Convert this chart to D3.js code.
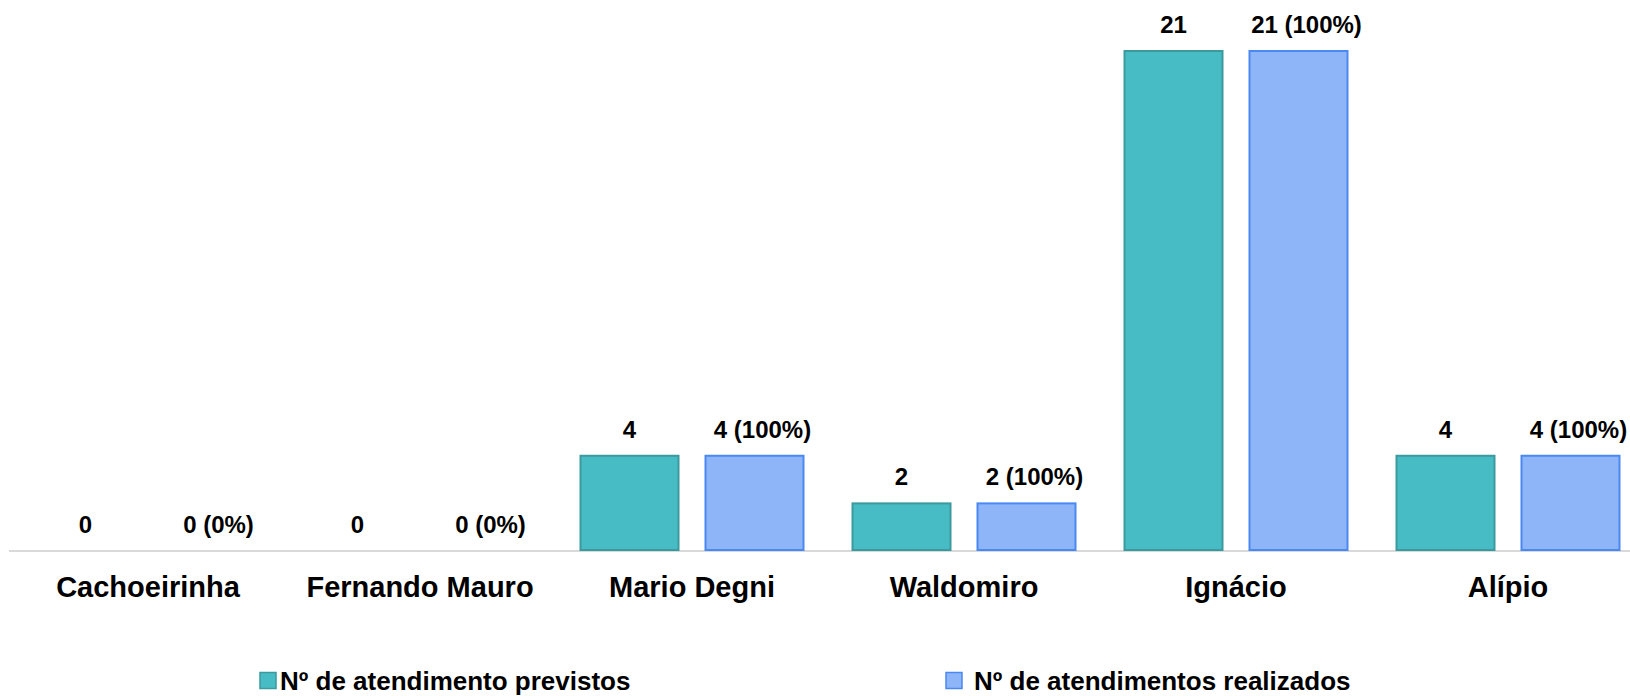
<!DOCTYPE html>
<html>
<head>
<meta charset="utf-8">
<script src="https://cdn.jsdelivr.net/npm/d3@7"></script>
<style>
  html, body { margin: 0; padding: 0; background: #ffffff; }
  svg { display: block; font-family: "Liberation Sans", Arial, sans-serif; }
</style>
</head>
<body>
<svg id="chart" width="1630" height="696"></svg>
<script>
// Unidades e atendimentos
const categories = ["Cachoeirinha", "Fernando Mauro", "Mario Degni", "Waldomiro", "Ignácio", "Alípio"];
const previstos  = [0, 0, 4, 2, 21, 4];
const realizados = [0, 0, 4, 2, 21, 4];
const seriesNames = ["Nº de atendimento previstos", "Nº de atendimentos realizados"];

const W = 1630, H = 696;
const baseY = 550, topY = 50;
const svg = d3.select("#chart");

const fills   = ["#48BCC4", "#8FB5F9"];
const strokes = ["#3A9A9D", "#4A88F2"];

const x0 = d3.scaleBand().domain(categories).range([12, 1644]).padding(0);
const x1 = d3.scaleBand().domain([0, 1]).range([0, x0.bandwidth()])
  .paddingInner(0.2).paddingOuter(0.188);
const y = d3.scaleLinear().domain([0, 21]).range([baseY, topY]);

const rows = categories.map((c, i) => ({
  cat: c,
  vals: [
    { s: 0, v: previstos[i], label: String(previstos[i]) },
    { s: 1, v: realizados[i],
      label: realizados[i] + " (" + (previstos[i] ? Math.round(realizados[i] / previstos[i] * 100) : 0) + "%)" }
  ]
}));

// baseline
svg.append("line")
  .attr("x1", 9).attr("x2", W)
  .attr("y1", baseY + 1).attr("y2", baseY + 1)
  .attr("stroke", "#d9d9d9").attr("stroke-width", 2);

const groups = svg.selectAll("g.cat").data(rows).join("g")
  .attr("class", "cat")
  .attr("transform", d => `translate(${x0(d.cat)},0)`);

groups.selectAll("rect").data(d => d.vals.filter(v => v.v > 0)).join("rect")
  .attr("x", d => x1(d.s) + 1)
  .attr("width", x1.bandwidth() - 2)
  .attr("y", d => y(d.v) + 1)
  .attr("height", d => y(0) - y(d.v) - 1)
  .attr("fill", d => fills[d.s])
  .attr("stroke", d => strokes[d.s])
  .attr("stroke-width", 2);

groups.selectAll("text.val").data(d => d.vals).join("text")
  .attr("class", "val")
  .attr("x", d => x1(d.s) + x1.bandwidth() / 2 + (d.s === 1 ? 8 : 0))
  .attr("y", d => y(d.v) - 17)
  .attr("text-anchor", "middle")
  .attr("font-size", 24)
  .attr("font-weight", "bold")
  .attr("fill", "#000")
  .text(d => d.label);

// category axis labels
const xAxis = d3.axisBottom(x0).tickSize(0).tickPadding(0);
const ax = svg.append("g").attr("transform", `translate(0,${baseY})`).call(xAxis);
ax.select(".domain").remove();
ax.selectAll("text")
  .attr("dy", null)
  .attr("y", 47)
  .attr("font-size", 29)
  .attr("font-weight", "bold")
  .attr("font-family", "'Liberation Sans', Arial, sans-serif")
  .attr("fill", "#000");

// legend
const legendX = [259, 945];
const lg = svg.selectAll("g.legend").data(seriesNames).join("g")
  .attr("class", "legend")
  .attr("transform", (d, i) => `translate(${legendX[i]},672)`);
lg.append("rect")
  .attr("x", 1).attr("y", 0.5).attr("width", 16).attr("height", 16)
  .attr("fill", (d, i) => fills[i])
  .attr("stroke", (d, i) => strokes[i])
  .attr("stroke-width", 1.5);
lg.append("text")
  .attr("x", (d, i) => i === 0 ? 21 : 29)
  .attr("y", 18)
  .attr("font-size", 26)
  .attr("font-weight", "bold")
  .attr("fill", "#000")
  .text(d => d);
</script>
</body>
</html>
